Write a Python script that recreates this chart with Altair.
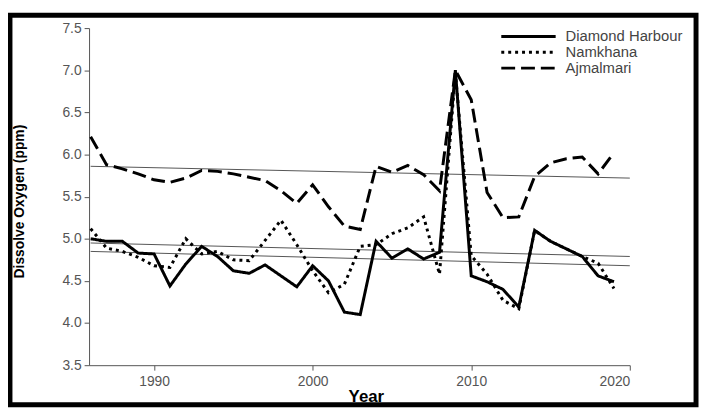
import altair as alt
import pandas as pd

years = [1986, 1987, 1988, 1989, 1990, 1991, 1992, 1993, 1994, 1995, 1996, 1997,
         1998, 1999, 2000, 2001, 2002, 2003, 2004, 2005, 2006, 2007, 2008, 2009,
         2010, 2011, 2012, 2013, 2014, 2015, 2016, 2017, 2018, 2019]

diamond = [5.00, 4.97, 4.97, 4.83, 4.82, 4.44, 4.70, 4.91, 4.79, 4.62, 4.59, 4.69,
           4.56, 4.43, 4.68, 4.50, 4.13, 4.10, 4.97, 4.77, 4.88, 4.76, 4.84, 7.00,
           4.56, 4.49, 4.40, 4.19, 5.10, 4.97, 4.88, 4.79, 4.56, 4.49]

namkhana = [5.12, 4.89, 4.85, 4.78, 4.68, 4.66, 5.00, 4.82, 4.85, 4.75, 4.74, 4.98,
            5.22, 4.93, 4.62, 4.36, 4.46, 4.91, 4.93, 5.06, 5.13, 5.26, 4.58, 6.97,
            4.80, 4.58, 4.27, 4.17, 5.10, 4.97, 4.88, 4.79, 4.71, 4.41]

ajmalmari = [6.21, 5.88, 5.83, 5.77, 5.70, 5.67, 5.72, 5.81, 5.80, 5.77, 5.73, 5.69,
             5.57, 5.42, 5.64, 5.38, 5.15, 5.11, 5.86, 5.79, 5.87, 5.76, 5.57, 7.00,
             6.65, 5.55, 5.25, 5.26, 5.74, 5.90, 5.95, 5.97, 5.77, 6.02]

sites = ["Diamond Harbour", "Namkhana", "Ajmalmari"]

# linear trend lines (end points)
trend_years = [1986, 2020]
trend_diamond = [4.85, 4.68]
trend_namkhana = [4.95, 4.79]
trend_ajmalmari = [5.86, 5.72]

x_ticks = [1990, 2000, 2010, 2020]
y_ticks = [3.5, 4.0, 4.5, 5.0, 5.5, 6.0, 6.5, 7.0, 7.5]

rows = []
for name, vals in zip(sites, [diamond, namkhana, ajmalmari]):
    for yr, v in zip(years, vals):
        rows.append({"Year": yr, "DO": v, "Site": name})
df = pd.DataFrame(rows)

trows = []
for name, vals in zip(sites, [trend_diamond, trend_namkhana, trend_ajmalmari]):
    for yr, v in zip(trend_years, vals):
        trows.append({"Year": yr, "DO": v, "Site": name})
tdf = pd.DataFrame(trows)

FONT = "Liberation Sans"

x_enc = alt.X(
    "Year:Q",
    scale=alt.Scale(domain=[1985.9, 2020], nice=False, zero=False),
    axis=alt.Axis(values=x_ticks, format="d", title="Year",
                  titleFontSize=17, titleFontWeight="bold", titleColor="black",
                  titleX=280, titleY=37, titleBaseline="alphabetic",
                  labelPadding=5),
)
y_enc = alt.Y(
    "DO:Q",
    scale=alt.Scale(domain=[3.5, 7.5], nice=False, zero=False),
    axis=alt.Axis(values=y_ticks, format=".1f", title="Dissolve Oxygen (ppm)",
                  titleFontSize=14, titleFontWeight="bold", titleColor="black",
                  titleAngle=-90, titleX=-70, titleY=175, titleAlign="center",
                  titleBaseline="middle", labelPadding=3),
)

trend = alt.Chart(tdf).mark_line(color="#555555", strokeWidth=1).encode(
    x=x_enc, y=y_enc, detail="Site:N"
)

lines = alt.Chart(df).mark_line(color="black", strokeWidth=3).encode(
    x=x_enc,
    y=y_enc,
    strokeDash=alt.StrokeDash(
        "Site:N",
        scale=alt.Scale(domain=sites, range=[[1, 0], [3, 4], [14, 6]]),
        legend=alt.Legend(
            title=None, orient="none", legendX=437, legendY=1,
            symbolType="M-5,0H5", symbolSize=121, symbolStrokeWidth=3,
            symbolStrokeColor="black", symbolFillColor="black",
            labelFontSize=15, labelFont=FONT, labelColor="#444444",
            labelOffset=30, rowPadding=0, padding=0,
        ),
    ),
    detail="Site:N",
)

border = alt.Chart(pd.DataFrame({"k": [0]})).mark_rect(
    fillOpacity=0, stroke="black", strokeWidth=5
).encode(
    x=alt.value(-80), x2=alt.value(614), y=alt.value(-13), y2=alt.value(381)
)

chart = alt.layer(trend, lines, border).properties(
    width=547, height=341,
    padding={"left": 82, "top": 18, "right": 70, "bottom": 42},
    autosize=alt.AutoSizeParams(type="none"),
    background="white",
).configure_view(stroke=None).configure_axis(
    grid=False, domainColor="#555555", domainWidth=1, tickColor="#555555",
    tickSize=5, tickWidth=1, labelColor="#555555", labelFontSize=14,
    labelFont=FONT, titleFont=FONT,
)

chart.save("out.html", embed_options={"renderer": "svg", "actions": False})
